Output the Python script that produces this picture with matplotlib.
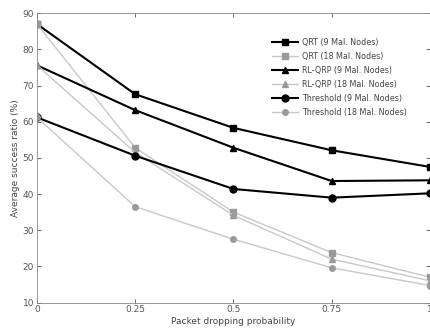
import matplotlib.pyplot as plt

prob = [0, 0.25, 0.5, 0.75, 1]

qrt_9 = [87.0, 67.6, 58.3, 52.1, 47.5]
qrt_18 = [87.0, 52.8, 35.0, 23.8, 17.0]
rlqrp_9 = [75.6, 63.2, 52.8, 43.6, 43.8]
rlqrp_18 = [75.6, 51.5, 34.1, 22.0, 16.0]
thr_9 = [61.2, 50.6, 41.4, 39.0, 40.2]
thr_18 = [61.2, 36.5, 27.5, 19.6, 14.7]

x_ticks = [0, 0.25, 0.5, 0.75, 1]
x_labels = ["0", "0.25", "0.5", "0.75", "1"]
y_ticks = list(range(10, 91, 10))

fig = plt.figure(figsize=(4.30, 3.31), dpi=100)
ax = fig.add_axes([0.086, 0.086, 0.914, 0.874])

dark = dict(color="black", linewidth=1.5, markersize=5)
light = dict(color="#c8c8c8", linewidth=1.0, markersize=4,
             markerfacecolor="#9a9a9a", markeredgecolor="#9a9a9a")

ax.plot(prob, qrt_9, marker="s", label="QRT (9 Mal. Nodes)", **dark)
ax.plot(prob, qrt_18, marker="s", label="QRT (18 Mal. Nodes)", **light)
ax.plot(prob, rlqrp_9, marker="^", label="RL-QRP (9 Mal. Nodes)", **dark)
ax.plot(prob, rlqrp_18, marker="^", label="RL-QRP (18 Mal. Nodes)", **light)
ax.plot(prob, thr_9, marker="o", label="Threshold (9 Mal. Nodes)", **dark)
ax.plot(prob, thr_18, marker="o", label="Threshold (18 Mal. Nodes)", **light)

ax.set_xlim(0, 1)
ax.set_ylim(10, 90)
ax.set_xticks(x_ticks)
ax.set_xticklabels(x_labels)
ax.set_yticks(y_ticks)
ax.tick_params(direction="in", top=True, right=True, length=3, width=0.6,
               labelsize=6.5, colors="#555555", pad=2)
for s in ax.spines.values():
    s.set_color("#888888")
    s.set_linewidth(0.6)

ax.set_xlabel("Packet dropping probability", fontsize=6.5, color="#444444", labelpad=2)
ax.set_ylabel("Average success ratio (%)", fontsize=6.5, color="#444444", labelpad=2)

leg = ax.legend(loc="upper left", bbox_to_anchor=(0.59, 0.925), frameon=False,
                fontsize=5.8, handlelength=3.2, labelspacing=0.62,
                handletextpad=0.5, borderaxespad=0)
for t in leg.get_texts():
    t.set_color("#444444")

fig.savefig("out.png", dpi=100)
